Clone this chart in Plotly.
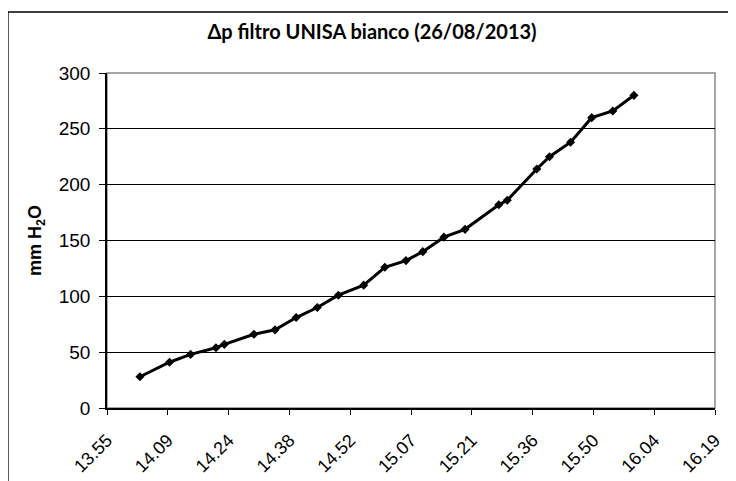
import plotly.graph_objects as go

# readings (hh:mm) and pressure drop in mm H2O
times = ["14:03", "14:10", "14:15", "14:21", "14:23", "14:30", "14:35", "14:40",
         "14:45", "14:50", "14:56", "15:01", "15:06", "15:10", "15:15", "15:20",
         "15:28", "15:30", "15:37", "15:40", "15:45", "15:50", "15:55", "16:00"]
dp = [28, 41, 48, 54, 57, 66, 70, 81, 90, 101, 110, 126, 132, 140, 153, 160,
      182, 186, 214, 225, 238, 260, 266, 280]

# excel-style axis: 0.01 day steps starting at 0.58 day
tick_text = ["13.55", "14.09", "14.24", "14.38", "14.52", "15.07",
             "15.21", "15.36", "15.50", "16.04", "16.19"]
y_ticks = [0, 50, 100, 150, 200, 250, 300]

def to_min(t):
    h, m = t.split(":")
    return int(h) * 60 + int(m)

x = [to_min(t) for t in times]
x_ticks = [(0.58 + 0.01 * i) * 1440 for i in range(len(tick_text))]

ARIAL = "Liberation Sans, Arial"

fig = go.Figure()
fig.add_trace(go.Scatter(
    x=x, y=dp, mode="lines+markers",
    line=dict(color="black", width=3),
    marker=dict(symbol="diamond", size=7, color="black"),
    showlegend=False,
))

# plot-area frame (grey) and outer chart border
fig.add_shape(type="rect", xref="paper", yref="paper", x0=0, x1=1, y0=0, y1=1,
              line=dict(color="#888888", width=1.5), layer="below")
fig.add_shape(type="rect", xref="paper", yref="paper",
              x0=-0.163, x1=1.1, y0=-0.3, y1=1.182,
              line=dict(color="black", width=1.5))

# page body has an 8px margin, so the figure is a bit smaller
fig.update_layout(
    width=728, height=473,
    margin=dict(l=99, r=21, t=65, b=73, autoexpand=False),
    paper_bgcolor="white", plot_bgcolor="white",
    font=dict(family=ARIAL, size=16, color="black"),
    title=dict(text="<b>Δp filtro UNISA bianco (26/08/2013)</b>",
               x=0.5, xanchor="center", y=0.949, yanchor="middle",
               font=dict(family="Lato", size=20, color="black")),
    xaxis=dict(range=[x_ticks[0], x_ticks[-1]], tickvals=x_ticks, ticktext=tick_text,
               tickangle=-45, ticks="outside", ticklen=5, tickcolor="black",
               ticklabelstandoff=8,
               showgrid=False, showline=True, linecolor="black", linewidth=1.5,
               zeroline=False, automargin=False,
               tickfont=dict(family=ARIAL, size=18, color="black")),
    yaxis=dict(range=[0, 300], tickvals=y_ticks, ticks="outside", ticklen=6,
               tickcolor="black", ticklabelstandoff=5,
               showgrid=True, gridcolor="black", gridwidth=1,
               showline=True, linecolor="black", linewidth=1.5, zeroline=False,
               automargin=False,
               title=dict(text="<b>mm H<sub>2</sub>O</b>", standoff=12,
                          font=dict(family=ARIAL, size=18, color="black")),
               tickfont=dict(family=ARIAL, size=19, color="black")),
)

fig.write_html("out.html")
